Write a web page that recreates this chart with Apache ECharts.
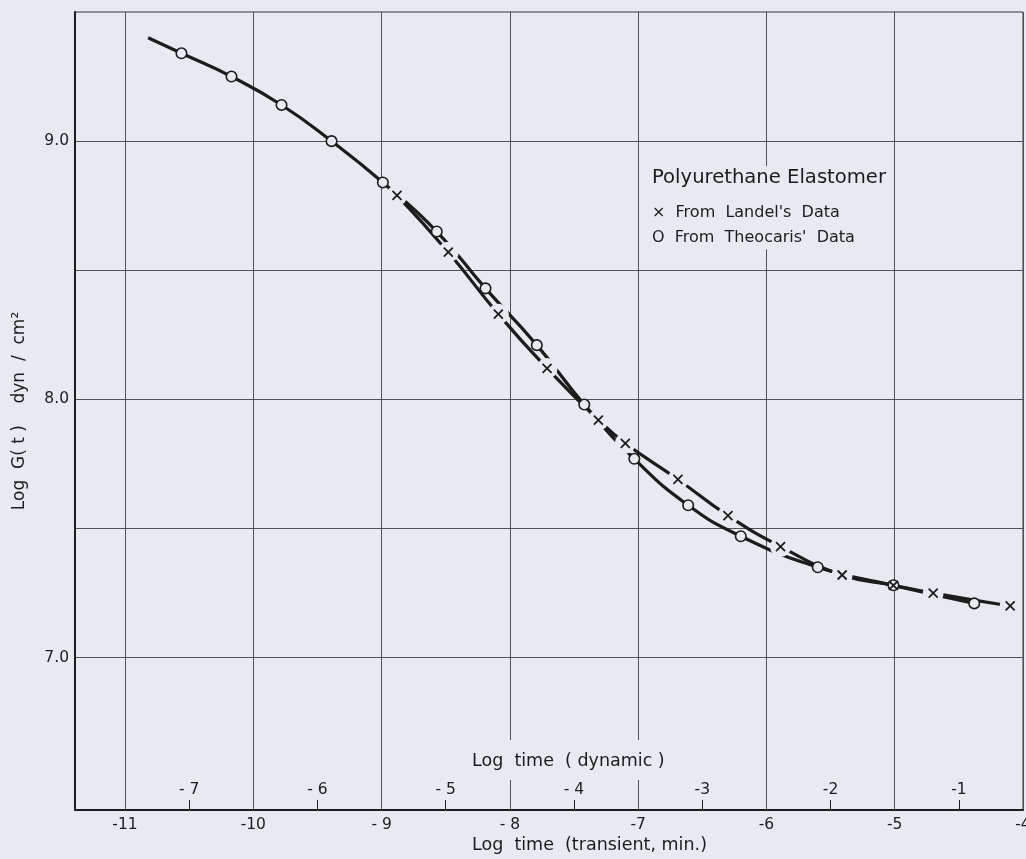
<!DOCTYPE html>
<html>
<head>
<meta charset="utf-8">
<style>
html,body{margin:0;padding:0;background:#e7eaf0;}
#c{width:1026px;height:859px;}
</style>
<script src="https://cdn.jsdelivr.net/npm/echarts@6.0.0/dist/echarts.min.js"></script>
</head>
<body>
<div id="c"></div>
<script>
// ---- data (x = log time transient, min.; y = log G(t)) ----
const theocarisX = [-10.56, -10.17, -9.78, -9.39, -8.99, -8.57, -8.19, -7.79, -7.42, -7.03, -6.61, -6.20, -5.60, -5.01, -4.38];
const theocarisY = [9.34, 9.25, 9.14, 9.00, 8.84, 8.65, 8.43, 8.21, 7.98, 7.77, 7.59, 7.47, 7.35, 7.28, 7.21];
const theocarisCurveStart = [-10.82, 9.40];   // where the drawn solid curve begins

const landelX = [-8.88, -8.48, -8.09, -7.71, -7.31, -7.10, -6.69, -6.30, -5.89, -5.41, -5.01, -4.70, -4.10];
const landelY = [8.79, 8.57, 8.33, 8.12, 7.92, 7.83, 7.69, 7.55, 7.43, 7.32, 7.28, 7.25, 7.20];

const transientTicks  = [-11, -10, -9, -8, -7, -6, -5, -4];
const transientLabels = ['-11', '-10', '- 9', '- 8', '-7', '-6', '-5', '-4'];
const dynamicTicks    = [-7, -6, -5, -4, -3, -2, -1];
const dynamicLabels   = ['- 7', '- 6', '- 5', '- 4', '-3', '-2', '-1'];
const dynamicShift = 3.5;            // log t (dynamic) = log t (transient) + 3.5
const yGridValues  = [7.0, 7.5, 8.0, 8.5, 9.0];
const yLabelValues = [7.0, 8.0, 9.0];
const xRange = [-11.39, -4];
const yRange = [6.41, 9.5];

// ---- styling ----
const PAPER = '#e7eaf0', INK = '#1c1c1c', GRID = '#505050';
const FONT = 'DejaVu Sans';

const zip = (xs, ys) => xs.map((x, i) => [x, ys[i]]);
const theoPts = zip(theocarisX, theocarisY);
const landelPts = zip(landelX, landelY);
const haloPts = landelPts.filter(p => !theoPts.some(q => Math.abs(q[0] - p[0]) < 0.05 && Math.abs(q[1] - p[1]) < 0.03));
const lookup = (vals, labels) => v => { const i = vals.findIndex(t => Math.abs(t - v) < 1e-6); return i < 0 ? '' : labels[i]; };

const chart = echarts.init(document.getElementById('c'), null, {renderer: 'canvas'});
chart.setOption({
  backgroundColor: PAPER,
  animation: false,
  textStyle: {fontFamily: FONT, color: INK},
  grid: {left: 75, top: 12, right: 3, bottom: 49, show: true, borderColor: '#333', borderWidth: 1,
         containLabel: false, outerBoundsMode: 'none'},
  title: [
    {
      left: 646, top: 154, padding: [2, 6, 4, 6], backgroundColor: PAPER,
      text: '{h|Polyurethane Elastomer}\n{a|×  From  Landel\'s  Data}\n{a|O  From  Theocaris\'  Data}',
      textStyle: {
        fontFamily: FONT, color: INK, fontWeight: 'normal',
        rich: {
          h: {fontFamily: FONT, fontSize: 19.6, lineHeight: 44, color: INK, fontWeight: 'normal'},
          a: {fontFamily: FONT, fontSize: 16, lineHeight: 25, color: INK, fontWeight: 'normal'}
        }
      }
    },
    {
      left: 466, top: 740, padding: [12, 6, 9, 6], backgroundColor: PAPER,
      text: 'Log  time  ( dynamic )',
      textStyle: {fontFamily: FONT, fontSize: 17.5, lineHeight: 19, fontWeight: 'normal', color: INK}
    },
    {
      left: 466, top: 836, padding: [0, 6, 0, 6],
      text: 'Log  time  (transient, min.)',
      textStyle: {fontFamily: FONT, fontSize: 17.5, lineHeight: 19, fontWeight: 'normal', color: INK}
    }
  ],
  xAxis: [
    {
      type: 'value', min: xRange[0], max: xRange[1], position: 'bottom',
      axisLine: {show: true, onZero: false, lineStyle: {color: INK, width: 2}},
      axisTick: {show: false, customValues: transientTicks},
      axisLabel: {customValues: transientTicks, margin: 7, fontSize: 15.5, fontFamily: FONT, color: INK,
                  formatter: lookup(transientTicks, transientLabels)},
      splitLine: {show: true, lineStyle: {color: GRID, width: 1}}
    },
    {
      type: 'value', min: xRange[0] + dynamicShift, max: xRange[1] + dynamicShift, position: 'bottom',
      axisLine: {show: false, onZero: false},
      axisTick: {show: true, inside: true, length: 10, customValues: dynamicTicks, lineStyle: {color: INK, width: 1}},
      axisLabel: {inside: true, customValues: dynamicTicks, margin: 12, fontSize: 15.5, fontFamily: FONT, color: INK,
                  formatter: lookup(dynamicTicks, dynamicLabels)},
      splitLine: {show: false}
    }
  ],
  yAxis: {
    type: 'value', min: yRange[0], max: yRange[1],
    name: 'Log  G( t )    dyn  /  cm²', nameLocation: 'middle', nameRotate: 90, nameGap: 47,
    nameTextStyle: {fontFamily: FONT, fontSize: 17, color: INK},
    axisLine: {show: true, onZero: false, lineStyle: {color: INK, width: 2}},
    axisTick: {show: false, customValues: yGridValues},
    axisLabel: {customValues: yLabelValues, margin: 6, fontSize: 15.5, fontFamily: FONT, color: INK,
                formatter: v => v.toFixed(1)},
    splitLine: {show: true, lineStyle: {color: GRID, width: 1}}
  },
  series: [
    {
      name: 'Theocaris curve', type: 'line', xAxisIndex: 0,
      data: [theocarisCurveStart].concat(theoPts),
      smooth: 0.5, showSymbol: false, silent: true, z: 2,
      lineStyle: {color: INK, width: 3.2}
    },
    {
      name: 'Landel curve', type: 'line', xAxisIndex: 0,
      data: landelPts,
      smooth: 0.5, showSymbol: false, silent: true, z: 2,
      lineStyle: {color: INK, width: 3.2}
    },
    {
      name: 'halo', type: 'scatter', xAxisIndex: 0, data: haloPts, silent: true, z: 3,
      symbol: 'circle', symbolSize: 21, itemStyle: {color: PAPER, opacity: 1}
    },
    {
      name: "From Theocaris' Data", type: 'scatter', xAxisIndex: 0, data: theoPts, silent: true, z: 4,
      symbol: 'circle', symbolSize: 10.5,
      itemStyle: {color: PAPER, borderColor: INK, borderWidth: 1.6, opacity: 1}
    },
    {
      name: "From Landel's Data", type: 'scatter', xAxisIndex: 0, data: landelPts, silent: true, z: 5,
      symbol: 'path://M0,0L10,10M10,0L0,10', symbolSize: 9,
      itemStyle: {color: 'none', borderColor: INK, borderWidth: 1.8, opacity: 1}
    }
  ]
});
</script>
</body>
</html>
